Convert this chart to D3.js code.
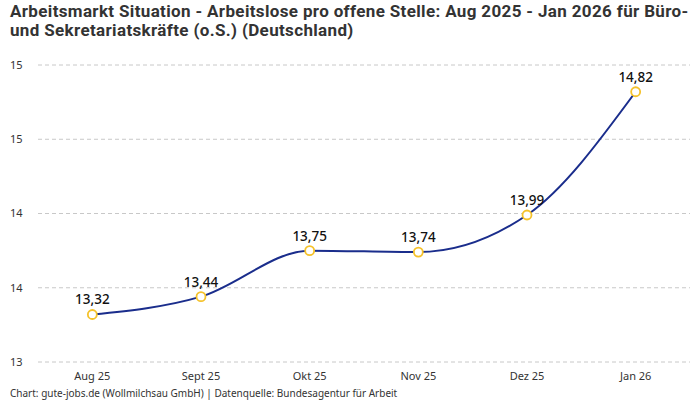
<!DOCTYPE html>
<html>
<head>
<meta charset="utf-8">
<script src="https://cdn.jsdelivr.net/npm/d3@7"></script>
<style>
  body { margin: 0; background: #fff; }
  svg { font-family: "Noto Sans", Roboto, sans-serif; }
  .grid line { stroke: #c8c8c8; stroke-dasharray: 4 3; }
</style>
</head>
<body>
<svg id="chart" width="700" height="400"></svg>
<script>
// ---------- Data ----------
const months = ["Aug 25", "Sept 25", "Okt 25", "Nov 25", "Dez 25", "Jan 26"];
const values = [13.32, 13.44, 13.75, 13.74, 13.99, 14.82];
const yTicks = [13, 13.5, 14, 14.5, 15];

const titleLines = [
  "Arbeitsmarkt Situation - Arbeitslose pro offene Stelle: Aug 2025 - Jan 2026 für Büro-",
  "und Sekretariatskräfte (o.S.) (Deutschland)"
];
const footer = "Chart: gute-jobs.de (Wollmilchsau GmbH) | Datenquelle: Bundesagentur für Arbeit";

// ---------- Layout ----------
const svg = d3.select("#chart");
const plot = { left: 38, right: 690, top: 65, bottom: 362 };

const x = d3.scalePoint().domain(months).range([plot.left, plot.right]).padding(0.5);
const y = d3.scaleLinear().domain([13, 15]).range([plot.bottom, plot.top]);

const data = months.map((m, i) => ({ month: m, value: values[i] }));
const fmtVal = v => d3.format(".2f")(v).replace(".", ",");

// ---------- Title ----------
svg.append("g").selectAll("text").data(titleLines).join("text")
  .attr("x", 10).attr("y", (d, i) => 17 + i * 19)
  .attr("font-family", "Roboto, sans-serif")
  .attr("font-size", 17).attr("letter-spacing", 0.35)
  .attr("font-weight", "bold").attr("fill", "#333")
  .text(d => d);

// ---------- Grid + y labels ----------
const grid = svg.append("g").attr("class", "grid");
grid.selectAll("line").data(yTicks).join("line")
  .attr("x1", plot.left).attr("x2", plot.right)
  .attr("y1", d => y(d)).attr("y2", d => y(d));

svg.append("g").selectAll("text").data(yTicks).join("text")
  .attr("x", 10).attr("y", d => y(d)).attr("dy", "0.35em")
  .attr("font-size", 11).attr("fill", "#333")
  .text(d => d3.format(".0f")(d));

// ---------- x labels ----------
svg.append("g").selectAll("text").data(months).join("text")
  .attr("x", d => x(d)).attr("y", 380)
  .attr("text-anchor", "middle").attr("font-size", 11).attr("fill", "#333")
  .text(d => d);

// ---------- Line ----------
const line = d3.line().x(d => x(d.month)).y(d => y(d.value)).curve(d3.curveMonotoneX);
svg.append("path").datum(data)
  .attr("d", line).attr("fill", "none")
  .attr("stroke", "#1a2d8c").attr("stroke-width", 2);

// ---------- Markers ----------
svg.append("g").selectAll("circle").data(data).join("circle")
  .attr("cx", d => x(d.month)).attr("cy", d => y(d.value)).attr("r", 4.5)
  .attr("fill", "#fff").attr("stroke", "#f5c22a").attr("stroke-width", 1.8);

// ---------- Value labels ----------
svg.append("g").selectAll("text").data(data).join("text")
  .attr("x", d => x(d.month)).attr("y", d => y(d.value) - 10)
  .attr("text-anchor", "middle").attr("font-size", 13.5).attr("font-weight", 500).attr("fill", "#111")
  .text(d => fmtVal(d.value));

// ---------- Footer ----------
svg.append("text")
  .attr("x", 10).attr("y", 397)
  .attr("font-size", 10).attr("fill", "#333")
  .text(footer);
</script>
</body>
</html>
